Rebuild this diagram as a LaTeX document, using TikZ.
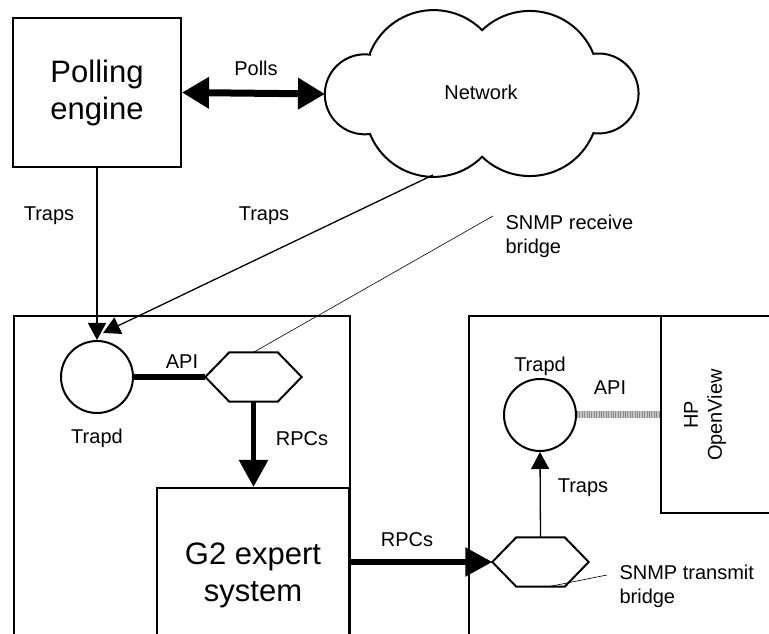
\documentclass[tikz,border=0pt]{standalone}
\usepackage{fontspec}
\setmainfont{Liberation Sans}
\usetikzlibrary{arrows.meta}

\begin{document}
\begin{tikzpicture}[x=1pt,y=1pt,
  box/.style={draw, line width=2pt, inner sep=0pt},
  smalltext/.style={font=\fontsize{20}{24}\selectfont},
  bigtext/.style={font=\fontsize{31}{37}\selectfont, align=center},
  daemon/.style={draw, circle, line width=2pt, minimum size=72pt, inner sep=0pt},
  bridge/.style={minimum width=96pt, minimum height=49pt, inner sep=0pt},
  thin arrow/.style={line width=1.3pt, -{Triangle[length=17pt,width=18pt]}},
  fat arrow/.style={line width=5.5pt, -{Triangle[length=27pt,width=28pt]}},
  leader/.style={line width=0.6pt},
  api link/.style={line width=7pt, draw=gray!45,
    postaction={draw=gray!90, dash pattern=on 1pt off 1.4pt}}]

\useasboundingbox (0,0) rectangle (769,634);
\clip (0,0) rectangle (769,634);

% Polling engine and the network cloud
\node[box, bigtext, minimum width=168pt, minimum height=149pt] (poll) at (97,541.5) {Polling\\engine};
\node[smalltext] (net) at (481,542) {Network};
\draw[line width=2pt] (370,581)
  arc[start angle=158, end angle=45, radius=68.6]
  arc[start angle=134, end angle=22, radius=68.6]
  arc[start angle=97.5, end angle=-97.5, radius=40]
  arc[start angle=-22, end angle=-134, radius=68.6]
  arc[start angle=-45, end angle=-158, radius=68.6]
  arc[start angle=-82.5, end angle=-277.5, radius=40] -- cycle;
\coordinate (net west) at (325,540);
\coordinate (net south) at (433,459);

% Polls
\draw[line width=7pt, {Triangle[length=27pt,width=30pt]}-{Triangle[length=27pt,width=30pt]}] (poll.east) -- (net west);
\node[smalltext] (polls) at (256,566) {Polls};

% Left system
\node[box, anchor=north west, minimum width=336pt, minimum height=400pt] (agent) at (13,319) {};
\node[box, bigtext, minimum width=192pt, minimum height=174pt] (g2) at (253,59) {G2 expert\\system};
\node[daemon] (trapd1) at (97,257) {};
\node[smalltext] (trapd1 lbl) at (97,196) {Trapd};
\node[bridge] (rbridge) at (253.5,257) {};

% Right system
\node[box, anchor=north west, minimum width=400pt, minimum height=400pt] (mgr) at (468,319) {};
\node[box, anchor=north west, minimum width=200pt, minimum height=197pt] (hpov) at (660,319) {};
\node[smalltext, rotate=90, align=center] (hp lbl) at (705,219) {HP\\OpenView};
\node[daemon] (trapd2) at (540,219) {};
\node[smalltext] (trapd2 lbl) at (540,268) {Trapd};
\node[bridge] (tbridge) at (540.5,72) {};

% Draw the bridge hexagons
\foreach \b in {rbridge,tbridge}
  \draw[line width=2pt] (\b.west) -- ([xshift=24pt]\b.north west) -- ([xshift=-24pt]\b.north east)
    -- (\b.east) -- ([xshift=-24pt]\b.south east) -- ([xshift=24pt]\b.south west) -- cycle;

% Traps into the receiving Trapd
\draw[thin arrow] (poll.south) -- (trapd1.north);
\node[smalltext] (traps1) at (49,418) {Traps};
\draw[thin arrow] (net south) -- ([shift={(6,7)}]trapd1.north);
\node[smalltext] (traps2) at (264,418) {Traps};

% API and RPCs on the left
\draw[line width=6pt] (trapd1.east) -- (rbridge.west);
\node[smalltext] (api1) at (182,272) {API};
\draw[fat arrow] (rbridge.south) -- (rbridge.south |- g2.north);
\node[smalltext] (rpcs1) at (302,195) {RPCs};

% SNMP receive bridge label
\coordinate (rx end) at (493,418);
\draw[leader] (rbridge.north) -- (rx end);
\node[smalltext, align=left, anchor=west] (rx lbl) at (502,398) {SNMP receive\\bridge};

% RPCs to the transmit bridge
\draw[fat arrow] (g2.east |- tbridge.west) -- (tbridge.west);
\node[smalltext] (rpcs2) at (407,94) {RPCs};

% Traps and API on the right
\draw[thin arrow] (tbridge.north) -- (trapd2.south);
\node[smalltext] (traps3) at (583,146) {Traps};
\draw[api link] (trapd2.east) -- (trapd2.east -| hpov.west);
\node[smalltext] (api2) at (610,246) {API};

% SNMP transmit bridge label
\coordinate (tx end) at (607,59);
\draw[leader] ([xshift=8pt]tbridge.south) -- (tx end);
\node[smalltext, align=left, anchor=west] (tx lbl) at (616,48) {SNMP transmit\\bridge};

\end{tikzpicture}
\end{document}
